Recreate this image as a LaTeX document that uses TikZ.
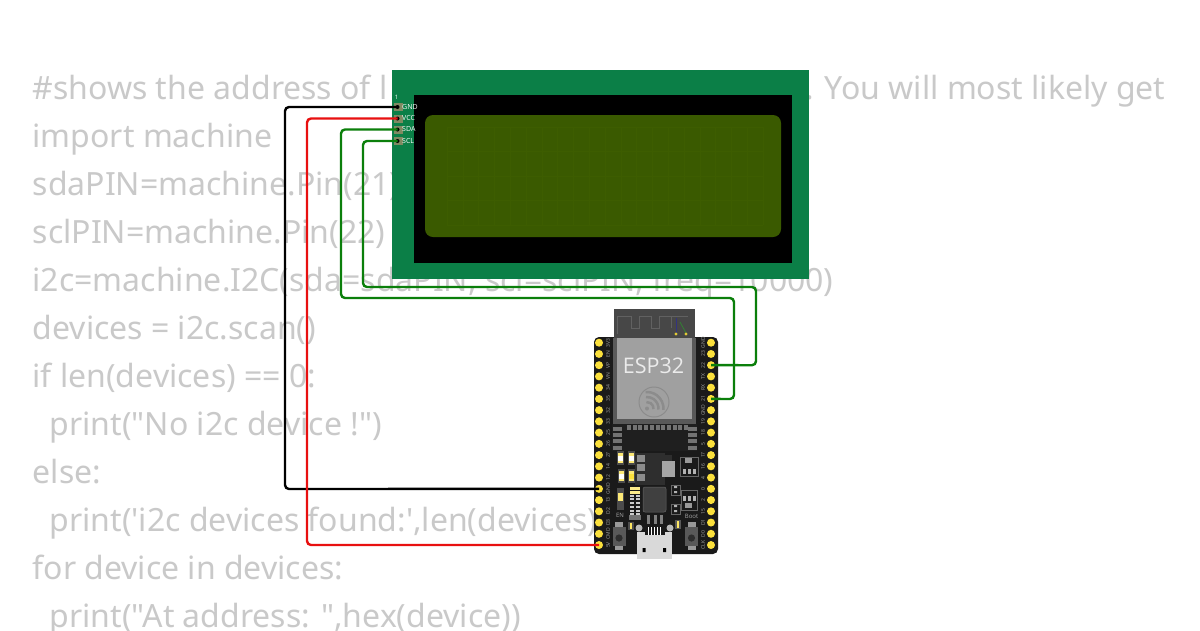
\documentclass[tikz,border=0pt]{standalone}
\usepackage{fontspec}
\usetikzlibrary{calc}
\setmainfont{Open Sans}
\newfontfamily\codefont{Noto Sans}
\definecolor{codegray}{HTML}{C9C9C9}
\definecolor{lcdgreen}{HTML}{0B7F47}
\definecolor{lcdscreen}{HTML}{3A5A00}
\definecolor{lcdgrid}{HTML}{3D5D00}
\definecolor{wiregreen}{HTML}{0B7F0B}
\definecolor{wirered}{HTML}{E81010}
\definecolor{pinyellow}{HTML}{FBE03C}
\definecolor{boardblack}{HTML}{1A1A1A}
\definecolor{modgray}{HTML}{A0A0A0}
\definecolor{antgray}{HTML}{474747}
\definecolor{padtan}{HTML}{7F8A62}
\tikzset{
  codeline/.style={anchor=base west,inner sep=0pt,text=codegray,font=\codefont\fontsize{32}{38}\selectfont},
  lcdlabel/.style={anchor=west,inner sep=0pt,text=white,font=\fontsize{7}{8}\selectfont},
  pinlabel/.style={rotate=90,inner sep=0pt,text=black!35,font=\fontsize{5}{6}\selectfont},
  wire/.style={line width=2.4pt,rounded corners=4pt},
  lcdpad/.style={rectangle,fill=padtan,minimum width=9pt,minimum height=8pt,inner sep=0pt},
  hole/.style={circle,fill=black,minimum size=4pt,inner sep=0pt},
  yellowpin/.style={circle,fill=pinyellow,minimum size=8pt,inner sep=0pt},
}
\begin{document}
\begin{tikzpicture}[x=1pt,y=-1pt]
\clip (0,0) rectangle (1200,630);
\fill[white] (0,0) rectangle (1200,630);
% code text
\node[codeline] (c1) at (32.5,99) {\#shows the address of l};
\node[codeline] (c1b) at (805,99) {. You will most likely get};
\node[codeline] (c2) at (32.5,147) {import machine};
\node[codeline] (c3) at (32.5,195) {sdaPIN=machine.Pin(21)};
\node[codeline] (c4) at (32.5,243) {sclPIN=machine.Pin(22)};
\node[codeline] (c5) at (32.5,291) {i2c=machine.I2C(sda=sdaPIN, scl=sclPIN, freq=10000)};
\node[codeline] (c6) at (32.5,339) {devices = i2c.scan()};
\node[codeline] (c7) at (32.5,387) {if len(devices) == 0:};
\node[codeline] (c8) at (49.5,435) {print("No i2c device !")};
\node[codeline] (c9) at (32.5,483) {else:};
\node[codeline] (c10) at (49.5,531) {print('i2c devices found:',len(devices))};
\node[codeline] (c11) at (32.5,579) {for device in devices:};
\node[codeline] (c12) at (49.5,627) {print("At address: ",hex(device))};
% LCD
\fill[lcdgreen] (392,70) rectangle (808.5,279);
\fill[black] (414,95) rectangle (792,263);
\fill[lcdscreen,rounded corners=8pt] (425,115) rectangle (781,237);
\foreach \i in {0,...,20} \draw[lcdgrid,line width=.6pt] (447+15.8*\i,127) -- (447+15.8*\i,225);
\foreach \j in {0,...,4} \draw[lcdgrid,line width=.6pt] (447,127+24.5*\j) -- (763,127+24.5*\j);
\node[inner sep=0pt,text=white,font=\fontsize{6}{7}\selectfont] (lcd1) at (396.5,97.5) {1};
\foreach \n/\y/\t in {gnd/107/GND,vcc/118.5/VCC,sda/129.5/SDA,scl/141/SCL}{
  \node[lcdpad] (pad\n) at (398,\y) {};
  \node[hole] (lcd\n) at (397.5,\y) {};
  \node[lcdlabel] (lab\n) at (402,\y-.5) {\t};
}
% ESP32 board
\fill[boardblack,rounded corners=5pt] (594,337) rectangle (718,554);
% antenna and module
\fill[antgray] (614,309) rectangle (695,338);
\draw[black!62,line width=1pt] (617,334) -- (617,316) -- (631,316) -- (631,328) -- (639,328) -- (639,316) -- (651,316) -- (651,328) -- (659,328) -- (659,316) -- (671,316) -- (671,328);
\draw[black!62,line width=1pt] (671,316) -- (688,316);
\draw[black!50!blue!60!gray,line width=.8pt] (676,318) -- (676,333);
\draw[black!50!green!60!gray,line width=.8pt] (680,322) -- (686,333);
\fill[pinyellow!90!black] (676,334) circle (1.6pt) (686,334) circle (1.6pt);
\fill[black!65] (613,338) rectangle (696,424);
\fill[modgray] (617,338) rectangle (692,419);
\fill[black!88] (612,424) rectangle (697,451);
\foreach \i in {0,...,10} \fill[black!55] (627+5.7*\i,425) rectangle (631+5.7*\i,430);
\foreach \j in {0,...,3}{
  \fill[black!55] (613,427+6.2*\j) rectangle (622,431+6.2*\j);
  \fill[black!55] (688,427+6.2*\j) rectangle (697,431+6.2*\j);
}
\node[inner sep=0pt,text=white!92!black,font=\fontsize{21.5}{24}\selectfont] (esplabel) at (653.5,365.5) {ESP32};
% logo
\draw[black!45,line width=1pt] (654,402) circle (15pt);
\fill[black!45] (647,408.5) circle (2pt);
\foreach \r in {6.5,11.5,16.5}
  \draw[black!45,line width=2.5pt] ($(647,408.5)+(-5:\r pt)$) arc (-5:95:\r pt);
% lower board parts
\fill[black!82] (635,453) rectangle (665,485);
\foreach \y in {455,464,474} \fill[black!45] (637,\y) rectangle (645,\y+7);
\fill[black!35] (662,461) rectangle (675,477);
\fill[black!82] (665,455) rectangle (672,461);
% resistors / caps
\foreach \x/\y/\c in {620/458/white,631/458/white,621/476/white,631/476/pinyellow}{
  \fill[black!70] (\x-3.5,\y-7) rectangle (\x+3.5,\y+7);
  \fill[pinyellow!70!white] (\x-2.5,\y-5) rectangle (\x+2.5,\y+5);
  \fill[\c] (\x-2.5,\y-2.5) rectangle (\x+2.5,\y+2.5);
}
\fill[black!70] (617,488) rectangle (624,510);
\fill[pinyellow!70!white] (618,493) rectangle (623,501);
\foreach \a in {0,1} \fill[pinyellow!60!white] (630,487+4*\a) rectangle (640,490+4*\a);
\foreach \a in {1,2,3,4,5,6}{ \fill[black!20] (630,491+3.7*\a) rectangle (634,493+3.7*\a); \fill[black!20] (636,491+3.7*\a) rectangle (640,493+3.7*\a);}
\fill[black!55] (629,515) rectangle (641,520);
\fill[black!70] (628,522) rectangle (634,530);
\fill[pinyellow!80!white] (630,523) rectangle (632,529);
% QFN
\fill[black!75,rounded corners=2pt] (643,487) rectangle (666,512);
\draw[black!60,line width=.5pt,rounded corners=2pt] (643,487) rectangle (666,512);
% right ICs
\draw[black!60,line width=.7pt] (680,457) rectangle (698,476);
\fill[black!40] (685,458) rectangle (692,463);
\foreach \x in {684,689,694} \fill[black!30] (\x-1.5,469) rectangle (\x+1.5,474);
\draw[black!60,line width=.7pt] (681,490) rectangle (697,510);
\foreach \x in {684,689,694} \fill[black!30] (\x-1.5,496) rectangle (\x+1.5,501);
\fill[black!40] (685,503) rectangle (692,508);
\foreach \y in {485,504}{
  \draw[black!60,line width=.6pt] (671,\y) rectangle (680,\y+10);
  \fill[black!30] (674,\y+1) rectangle (677,\y+3) (674,\y+6) rectangle (677,\y+8);
}
% USB upper contacts
\foreach \x in {648,655,661} \fill[black!50] (\x-1.5,515) rectangle (\x+1.5,524);
\fill[black!15] (637,532) rectangle (672,559);
\fill[boardblack] (645,527) rectangle (665,535);
\foreach \x in {648,651,654,657,660} \draw[white,line width=.6pt] (\x,527) -- (\x,535);
\fill[black!28] (639,528) circle (3.5pt) (670,528) circle (3.5pt);
\fill[black] (642.5,548) rectangle (645.5,552) (663,548) rectangle (666,552);
% LED near boot
\fill[black!65] (675,520) rectangle (681,529);
\fill[pinyellow!80!white] (677,521) rectangle (679,528);
% buttons
\foreach \x in {619,691.5}{
  \fill[black!40] (\x-4,522) rectangle (\x+4,528);
  \fill[black!40] (\x-4,545) rectangle (\x+4,550);
  \fill[black!65] (\x-6.5,527) rectangle (\x+6.5,546);
  \fill[black!82] (\x,538) circle (3.6pt);
}
\node[inner sep=0pt,text=black!35,font=\fontsize{6}{7}\selectfont] (enlabel) at (620,515.5) {EN};
\node[inner sep=0pt,text=black!35,font=\fontsize{6}{7}\selectfont] (bootlabel) at (691.5,516.5) {Boot};
% pins and labels
\foreach \t [count=\i from 0] in {3V3,EN,VP,VN,34,35,32,33,25,26,27,14,12,GND,13,D2,D3,CMD,5V}{
  \node[yellowpin] (lp\i) at (599,342.7+11.24*\i) {};
  \node[pinlabel] (ll\i) at (608,342.7+11.24*\i) {\t};
}
\foreach \t [count=\i from 0] in {GND,23,22,TX,RX,21,GND,19,18,5,17,16,4,0,2,15,D1,D0,CLK}{
  \node[yellowpin] (rp\i) at (711,342.7+11.24*\i) {};
  \node[pinlabel] (rl\i) at (703,342.7+11.24*\i) {\t};
}
% wires
\draw[wire,black] (lcdgnd.center) -- (285,107) -- (285,489) -- (lp13.center);
\draw[wire,wirered] (lcdvcc.center) -- (307,118.5) -- (307,545) -- (lp18.center);
\draw[wire,wiregreen] (lcdsda.center) -- (341,129.5) -- (341,298) -- (734,298) -- (734,399) -- (rp5.center);
\draw[wire,wiregreen] (lcdscl.center) -- (363,141) -- (363,287) -- (756,287) -- (756,365.2) -- (rp2.center);
\end{tikzpicture}
\end{document}
